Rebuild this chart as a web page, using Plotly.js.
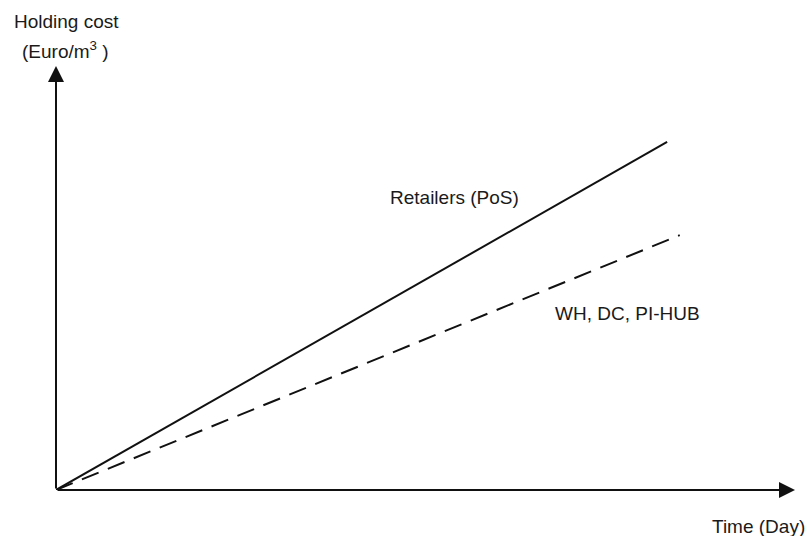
<!DOCTYPE html>
<html>
<head>
<meta charset="utf-8">
<script src="https://cdn.plot.ly/plotly-3.0.1.min.js"></script>
<style>html,body{margin:0;padding:0;background:#fff;}</style>
</head>
<body>
<div id="chart" style="width:809px;height:536px;"></div>
<script>
// Data (conceptual, axis units 0-100)
const retailTime = [0, 82.7];
const retailCost = [0, 82.1];
const hubTime = [0, 84.4];
const hubCost = [0, 60.1];
const seriesLabels = ["Retailers (PoS)", "WH, DC, PI-HUB"];
const axisLabels = ["Holding cost", "(Euro/m<sup>3</sup> )", "Time (Day)"];
const axisMax = [100, 100];

const font = {family: "Liberation Sans, Arial, Helvetica, sans-serif", size: 19, color: "#1a1a1a"};

const traces = [
  {x: retailTime, y: retailCost, mode: "lines", line: {color: "#111", width: 2}, hoverinfo: "skip", showlegend: false},
  {x: hubTime, y: hubCost, mode: "lines", line: {color: "#111", width: 2, dash: "18px,10px"}, hoverinfo: "skip", showlegend: false}
];

const layout = {
  width: 809, height: 536,
  margin: {l: 56, r: 14, t: 66, b: 46, pad: 0},
  paper_bgcolor: "#fff", plot_bgcolor: "#fff",
  showlegend: false,
  xaxis: {range: [0, axisMax[0]], visible: false, fixedrange: true},
  yaxis: {range: [0, axisMax[1]], visible: false, fixedrange: true},
  font: font,
  annotations: [
    {x: axisMax[0], y: 0, ax: 0, ay: 0, xref: "x", yref: "y", axref: "x", ayref: "y",
     text: "", showarrow: true, arrowhead: 2, arrowsize: 1.6, arrowwidth: 2, arrowcolor: "#111", standoff: 0, startstandoff: 0},
    {x: 0, y: axisMax[1], ax: 0, ay: 0, xref: "x", yref: "y", axref: "x", ayref: "y",
     text: "", showarrow: true, arrowhead: 2, arrowsize: 1.6, arrowwidth: 2, arrowcolor: "#111", standoff: 0, startstandoff: 0},
    {x: 53.9, y: 68.9, xref: "x", yref: "y", text: seriesLabels[0], showarrow: false, xanchor: "center", yanchor: "middle", font: font},
    {x: (553 - 56) / 739 * 100, y: (490 - 313) / 424 * 100, xref: "x", yref: "y", text: seriesLabels[1], showarrow: false, xanchor: "left", yanchor: "middle", font: font},
    {x: (66 - 56) / 739, y: (490 - 22) / 424, xref: "paper", yref: "paper", text: axisLabels[0], showarrow: false, xanchor: "center", yanchor: "middle", font: font},
    {x: (65 - 56) / 739, y: (490 - 50) / 424, xref: "paper", yref: "paper", text: axisLabels[1], showarrow: false, xanchor: "center", yanchor: "middle", font: font},
    {x: (807 - 56) / 739, y: (490 - 526) / 424, xref: "paper", yref: "paper", text: axisLabels[2], showarrow: false, xanchor: "right", yanchor: "middle", font: font}
  ]
};

Plotly.newPlot("chart", traces, layout, {displayModeBar: false, staticPlot: true});
</script>
</body>
</html>
